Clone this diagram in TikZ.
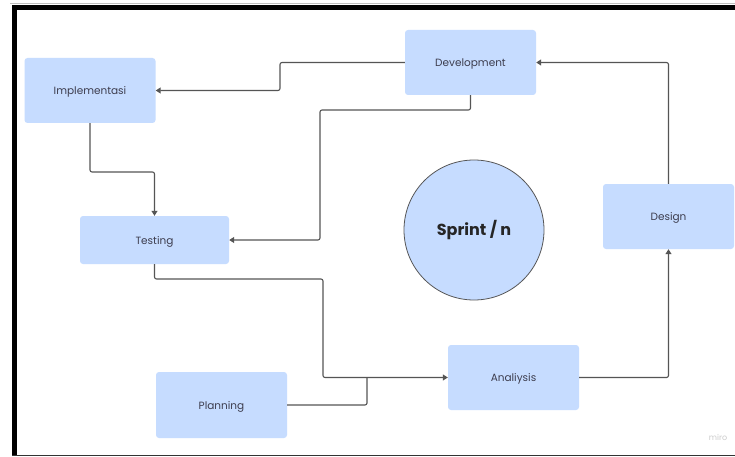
\documentclass[tikz,border=0pt]{standalone}
\usepackage{fontspec}
\setmainfont{Poppins}
\usetikzlibrary{arrows.meta}
\definecolor{boxblue}{HTML}{C6DCFF}
\definecolor{txtgray}{HTML}{3D3D4E}
\definecolor{linegray}{HTML}{555555}
\tikzset{
 stage/.style={fill=boxblue,rounded corners=3pt,minimum width=131pt,minimum height=65pt,inner sep=0pt,text=txtgray,text height=8.5pt,text depth=0.5pt,font=\fontsize{10.5}{12}\selectfont},
 conn/.style={draw=linegray,line width=1.1pt,rounded corners=2pt},
 tip/.style={-{Triangle[length=5pt,width=6pt]}}
}
\begin{document}
\begin{tikzpicture}[x=1pt,y=-1pt]
\useasboundingbox (0,0) rectangle (735,457);
\fill[white] (0,0) rectangle (735,457);
\draw[black!25,line width=1pt] (10,4) -- (735,4);
\fill[black] (12,5) rectangle (735,10);
\fill[black] (12,5) rectangle (17,456);
\draw[black!80,line width=1.2pt] (12,455.5) -- (735,455.5);
\node[stage] (impl) at (90,90.5) {Implementasi};
\node[stage] (dev) at (470.5,62.5) {Development};
\node[stage] (des) at (668.5,216.5) {Design};
\node[stage,minimum width=149pt,minimum height=48pt] (test) at (154.5,240) {Testing};
\node[stage,minimum height=66pt] (plan) at (221.5,405) {Planning};
\node[stage] (ana) at (513.5,377.5) {Analiysis};
\node[circle,fill=boxblue,draw=linegray,line width=0.8pt,minimum size=140pt,text=black!85,font=\fontsize{16}{18}\selectfont\bfseries] (sprint) at (474,230) {Sprint / n};
\node[text=black!20,font=\fontsize{8}{9}\selectfont] (miro) at (718,437) {miro};
\draw[conn,tip] (dev.west) -- (280,62.5) |- (impl.east);
\draw[conn,tip] (impl.south) -- (90,172) -| (test.north);
\draw[conn,tip] (dev.south) -- (470.5,110) -- (320,110) |- (test.east);
\draw[conn,tip] (test.south) -- (154.5,279) -| (323,377.5) -- (ana.west);
\draw[conn] (plan.east) -| (367,377.5);
\draw[conn,tip] (ana.east) -| (des.south);
\draw[conn,tip] (des.north) |- (dev.east);
\end{tikzpicture}
\end{document}
